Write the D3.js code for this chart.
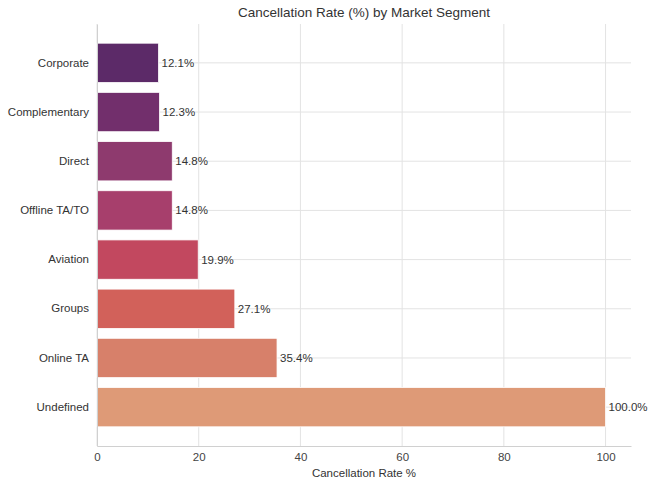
<!DOCTYPE html>
<html><head><meta charset="utf-8">
<script src="https://cdn.jsdelivr.net/npm/d3@7"></script>
<style>body{margin:0;background:#fff;}svg{display:block;font-family:"Liberation Sans",Arial,sans-serif;}</style>
</head><body><svg id="c" width="656" height="488"></svg>
<script>
const categories = ["Corporate","Complementary","Direct","Offline TA/TO","Aviation","Groups","Online TA","Undefined"];
const rates = [12.1, 12.3, 14.8, 14.8, 19.9, 27.1, 35.4, 100.0];
const colors = ["#5c2a68","#722f6c","#8e3a6e","#a73f6c","#c2485f","#d2615a","#d7806a","#de9a77"];
const xTicks = [0,20,40,60,80,100];

const svg = d3.select("#c");
const L=97, R=631, T=24, B=446;
const x = d3.scaleLinear().domain([0,105]).range([L,R]);
const y = d3.scaleBand().domain(categories).range([T,B]).paddingInner(0.2).paddingOuter(0.39);

// grid
svg.append("g").selectAll("line.v").data(xTicks).join("line")
  .attr("x1",d=>x(d)).attr("x2",d=>x(d)).attr("y1",T).attr("y2",B)
  .attr("stroke","#e3e3e3").attr("stroke-width",1);
svg.append("g").selectAll("line.h").data(categories).join("line")
  .attr("x1",L).attr("x2",R).attr("y1",d=>y(d)+y.bandwidth()/2).attr("y2",d=>y(d)+y.bandwidth()/2)
  .attr("stroke","#e3e3e3").attr("stroke-width",1);

// bars
svg.append("g").selectAll("rect").data(categories).join("rect")
  .attr("x",x(0)).attr("y",d=>y(d))
  .attr("width",(d,i)=>x(rates[i])-x(0)).attr("height",y.bandwidth())
  .attr("fill",(d,i)=>colors[i]).attr("stroke","#fff").attr("stroke-width",0.8);

// value labels
svg.append("g").selectAll("text").data(categories).join("text")
  .attr("x",(d,i)=>x(rates[i])+3).attr("y",d=>y(d)+y.bandwidth()/2)
  .attr("dy","0.35em").attr("font-size",11.5).attr("fill","#333")
  .text((d,i)=>rates[i].toFixed(1)+"%");

// axes
const xa = svg.append("g").attr("transform",`translate(0,${B})`)
  .call(d3.axisBottom(x).tickValues(xTicks).tickSize(0).tickPadding(7));
xa.select(".domain").attr("stroke","#d0d0d0");
xa.selectAll("text").attr("font-size",11.5).attr("fill","#444").attr("font-family","Liberation Sans, Arial, sans-serif");

const ya = svg.append("g").attr("transform",`translate(${L},0)`)
  .call(d3.axisLeft(y).tickSize(0).tickPadding(8));
ya.select(".domain").attr("stroke","#d0d0d0");
ya.selectAll("text").attr("font-size",11.5).attr("fill","#333").attr("font-family","Liberation Sans, Arial, sans-serif");

svg.append("text").attr("x",(L+R)/2).attr("y",477).attr("text-anchor","middle")
  .attr("font-size",11.5).attr("fill","#333").text("Cancellation Rate %");
svg.append("text").attr("x",(L+R)/2).attr("y",17).attr("text-anchor","middle")
  .attr("font-size",13.5).attr("fill","#333").text("Cancellation Rate (%) by Market Segment");
</script></body></html>
